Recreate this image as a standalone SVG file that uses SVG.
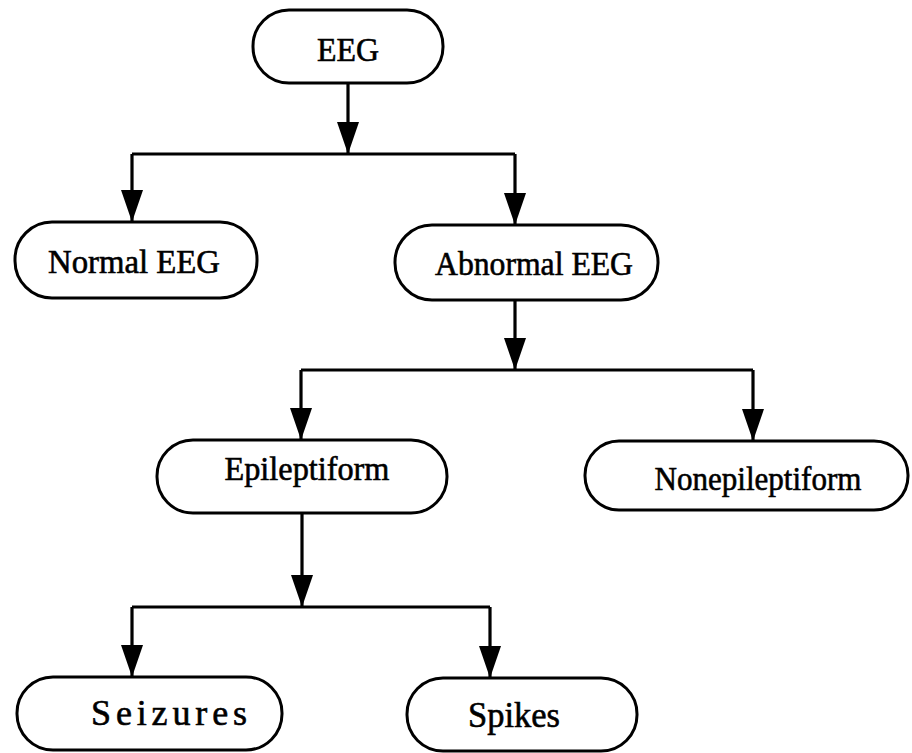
<svg xmlns="http://www.w3.org/2000/svg" width="912" height="753" viewBox="0 0 912 753">
  <style>
    .node rect { fill: #ffffff; stroke: #000000; stroke-width: 3; }
    .node text { font-family: "Liberation Serif", "Times New Roman", serif; font-size: 34px; fill: #000000; stroke: #000000; stroke-width: 0.6; text-anchor: middle; }
    .node text.wide { font-size: 36px; }
    .wire { fill: none; stroke: #000000; stroke-width: 3.2; }
  </style>
  <defs>
    <marker id="head" markerUnits="userSpaceOnUse" markerWidth="32" markerHeight="22" refX="32" refY="11" orient="auto">
      <path d="M0,0 L32,11 L0,22 Z" fill="#000000"/>
    </marker>
  </defs>
  <rect width="912" height="753" fill="#ffffff"/>

  <g id="connectors">
    <!-- EEG split -->
    <path class="wire" d="M348,83 V154" marker-end="url(#head)"/>
    <path class="wire" d="M132,154 H515"/>
    <path class="wire" d="M132,154 V222" marker-end="url(#head)"/>
    <path class="wire" d="M515,154 V225" marker-end="url(#head)"/>
    <!-- Abnormal EEG split -->
    <path class="wire" d="M515,300 V370" marker-end="url(#head)"/>
    <path class="wire" d="M301,370 H753"/>
    <path class="wire" d="M301,370 V440" marker-end="url(#head)"/>
    <path class="wire" d="M753,370 V441" marker-end="url(#head)"/>
    <!-- Epileptiform split -->
    <path class="wire" d="M302,513 V607" marker-end="url(#head)"/>
    <path class="wire" d="M132,607 H490"/>
    <path class="wire" d="M132,607 V677" marker-end="url(#head)"/>
    <path class="wire" d="M490,607 V678" marker-end="url(#head)"/>
  </g>

  <g id="eeg" class="node">
    <rect x="253" y="10" width="190" height="73" rx="36" ry="36"/>
    <text x="348" y="61" textLength="62" lengthAdjust="spacingAndGlyphs">EEG</text>
  </g>
  <g id="normal-eeg" class="node">
    <rect x="15" y="222" width="242" height="76" rx="37" ry="37"/>
    <text x="134" y="273" textLength="172" lengthAdjust="spacingAndGlyphs">Normal EEG</text>
  </g>
  <g id="abnormal-eeg" class="node">
    <rect x="395" y="225" width="263" height="75" rx="37" ry="37"/>
    <text x="534" y="275" textLength="198" lengthAdjust="spacingAndGlyphs">Abnormal EEG</text>
  </g>
  <g id="epileptiform" class="node">
    <rect x="157" y="440" width="290" height="73" rx="36" ry="36"/>
    <text x="307" y="480" textLength="165" lengthAdjust="spacingAndGlyphs">Epileptiform</text>
  </g>
  <g id="nonepileptiform" class="node">
    <rect x="585" y="441" width="323" height="69" rx="34" ry="34"/>
    <text x="758" y="490" textLength="207" lengthAdjust="spacingAndGlyphs">Nonepileptiform</text>
  </g>
  <g id="seizures" class="node">
    <rect x="17" y="677" width="265" height="73" rx="36" ry="36"/>
    <text class="wide" x="169" y="725" textLength="156" lengthAdjust="spacing">Seizures</text>
  </g>
  <g id="spikes" class="node">
    <rect x="407" y="678" width="230" height="73" rx="36" ry="36"/>
    <text class="wide" x="514" y="727" textLength="92" lengthAdjust="spacingAndGlyphs">Spikes</text>
  </g>
</svg>
